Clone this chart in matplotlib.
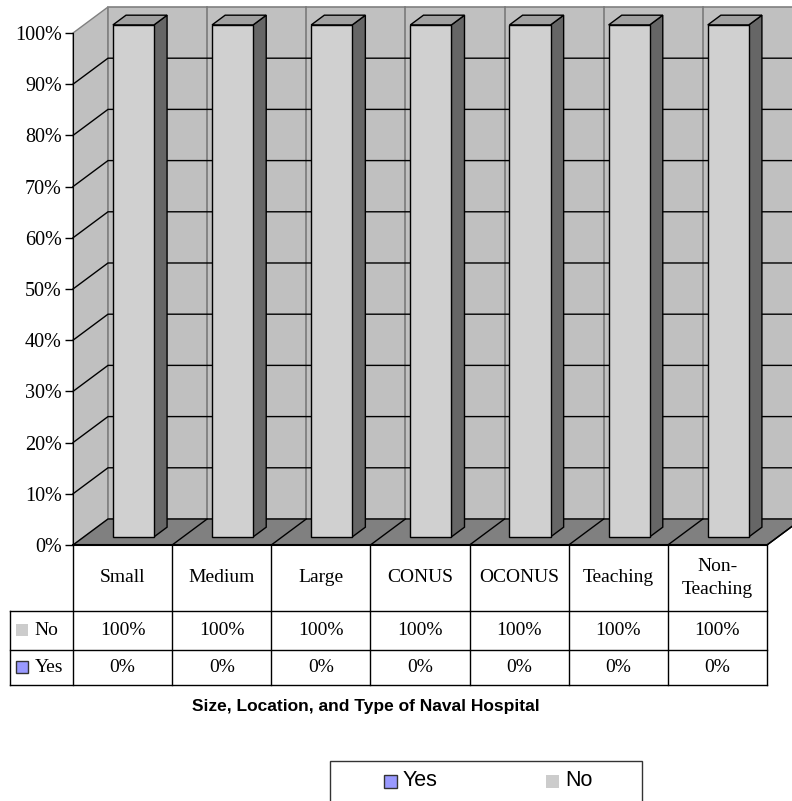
import matplotlib
matplotlib.use("Agg")
import matplotlib.pyplot as plt
from matplotlib.patches import Polygon, Rectangle

categories = ["Small", "Medium", "Large", "CONUS", "OCONUS", "Teaching", "Non-\nTeaching"]
yes_pct = [0, 0, 0, 0, 0, 0, 0]
no_pct = [100, 100, 100, 100, 100, 100, 100]
series = [("No", no_pct, "#CCCCCC"), ("Yes", yes_pct, "#9999FF")]

W, H = 792, 801
fig = plt.figure(figsize=(W / 100, H / 100), dpi=100)

def fx(px):
    return px / W

def fy(py):
    return 1 - py / H

# front plane of the 3-D plot area
ax = fig.add_axes([fx(73), fy(545), fx(767) - fx(73), fy(33) - fy(545)])
n = len(categories)
ax.set_xlim(0, n)
ax.set_ylim(0, 100)

# depth offset of the back wall, in data units
dx, dy = 0.353, 5.08
wall = "#C0C0C0"
floor = "#808080"

ax.add_patch(Polygon([(0, 0), (0, 100), (dx, 100 + dy), (dx, dy)], closed=True,
                     fc=wall, ec="#808080", lw=1, clip_on=False, zorder=1))
ax.add_patch(Polygon([(dx, dy), (dx, 100 + dy), (n + dx, 100 + dy), (n + dx, dy)], closed=True,
                     fc=wall, ec="#808080", lw=1.2, clip_on=False, zorder=1))
ax.add_patch(Polygon([(0, 0), (n, 0), (n + dx, dy), (dx, dy)], closed=True,
                     fc=floor, ec="black", lw=1, clip_on=False, zorder=2))

for k in range(1, n):
    ax.plot([k + dx, k + dx], [dy, 100 + dy], color="#7a7a7a", lw=1.2, clip_on=False, zorder=1.5)
for v in range(10, 100, 10):
    ax.plot([0, dx, n + dx], [v, v + dy, v + dy], color="black", lw=1, clip_on=False, zorder=1.6)
for k in range(1, n + 1):
    ax.plot([k, k + dx], [0, dy], color="black", lw=1, clip_on=False, zorder=2.5)

# stacked 3-D columns
bw = 0.414
d1, d2 = 0.31, 0.685
ddx, ddy = (d2 - d1) * dx, (d2 - d1) * dy
for i in range(n):
    base = d1 * dy
    x0 = i + 0.5 - bw / 2 + d1 * dx
    for name, vals, _ in [series[1], series[0]]:
        v = vals[i]
        if v <= 0:
            continue
        ax.add_patch(Rectangle((x0, base), bw, v, fc="#D0D0D0", ec="black", lw=1,
                               clip_on=False, zorder=5))
        ax.add_patch(Polygon([(x0 + bw, base), (x0 + bw, base + v),
                              (x0 + bw + ddx, base + v + ddy), (x0 + bw + ddx, base + ddy)],
                             closed=True, fc="#666666", ec="black", lw=1, clip_on=False, zorder=4))
        ax.add_patch(Polygon([(x0, base + v), (x0 + bw, base + v),
                              (x0 + bw + ddx, base + v + ddy), (x0 + ddx, base + v + ddy)],
                             closed=True, fc="#A0A0A0", ec="black", lw=1, clip_on=False, zorder=4))
        base += v

# axes styling
for s in ["top", "right", "bottom"]:
    ax.spines[s].set_visible(False)
ax.spines["left"].set_color("black")
ax.set_xticks([])
ax.set_yticks(range(0, 101, 10))
ax.set_yticklabels([f"{v}%" for v in range(0, 101, 10)], family="Liberation Serif", fontsize=14.5)
ax.tick_params(axis="y", direction="out", length=6, width=1, pad=2)
ax.patch.set_visible(False)

# data table under the floor
row_cat, row_no, row_yes = -12.89, -20.51, -27.34
lab_x = -0.635
tkw = dict(color="black", lw=1, clip_on=False, zorder=3)
ax.plot([0, n], [0, 0], color="black", lw=1.5, clip_on=False, zorder=3)
for k in range(n + 1):
    ax.plot([k, k], [0, row_yes], **tkw)
ax.plot([lab_x, lab_x], [row_cat, row_yes], **tkw)
for yy in [row_cat, row_no, row_yes]:
    ax.plot([lab_x, n], [yy, yy], **tkw)

serif = dict(family="Liberation Serif", fontsize=14, ha="center", va="center", clip_on=False)
for i, c in enumerate(categories):
    ax.text(i + 0.5, row_cat / 2, c, linespacing=1.45, **serif)
    ax.text(i + 0.5, (row_cat + row_no) / 2, f"{no_pct[i]}%", **serif)
    ax.text(i + 0.5, (row_no + row_yes) / 2, f"{yes_pct[i]}%", **serif)

for (name, vals, col), (y_top, y_bot) in zip(series, [(row_cat, row_no), (row_no, row_yes)]):
    ym = (y_top + y_bot) / 2
    ec = "none" if name == "No" else "#333333"
    ax.add_patch(Rectangle((-0.575, ym - 1.1), 0.12, 2.3, fc=col, ec=ec, lw=1, clip_on=False, zorder=3))
    ax.text(-0.39, ym, name, family="Liberation Serif", fontsize=14, ha="left", va="center")

# axis title
fig.text(fx(366), fy(707), "Size, Location, and Type of Naval Hospital",
         family="Liberation Sans", weight="bold", fontsize=12.5, ha="center", va="center")

# legend box
fig.patches.append(Rectangle((fx(330), fy(815)), fx(642) - fx(330), fy(761) - fy(815),
                             transform=fig.transFigure, fc="white", ec="#333333", lw=1))
for name, col, mx in [("Yes", "#9999FF", 384), ("No", "#CCCCCC", 546)]:
    ec = "#333333" if name == "Yes" else "none"
    fig.patches.append(Rectangle((fx(mx), fy(788)), fx(13), fy(775) - fy(788),
                                 transform=fig.transFigure, fc=col, ec=ec, lw=1))
    fig.text(fx(mx + 19), fy(780), name, family="Liberation Sans", fontsize=15.5,
             ha="left", va="center")

fig.savefig("out.png", dpi=100)
